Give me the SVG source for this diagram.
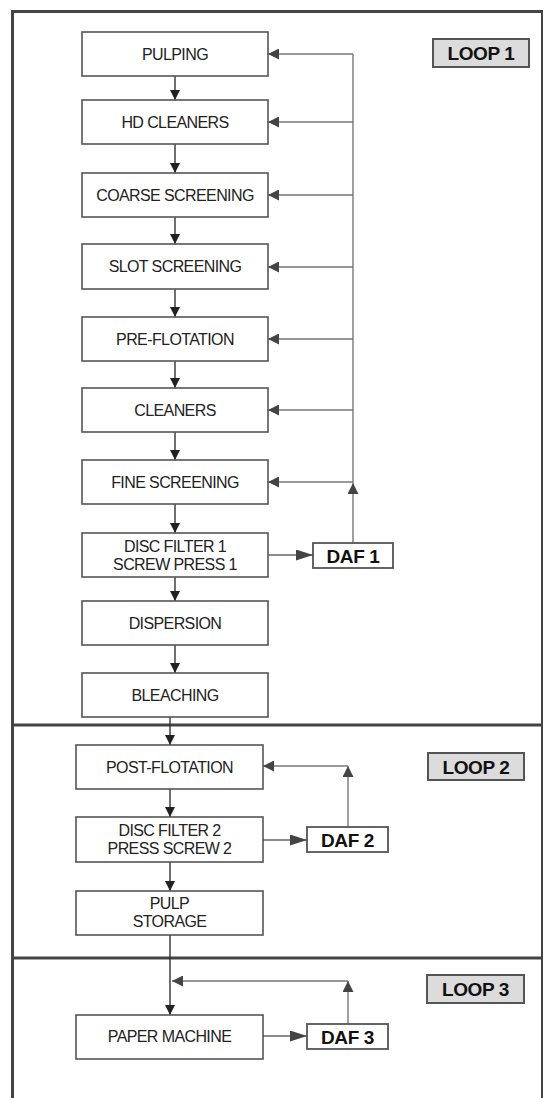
<svg xmlns="http://www.w3.org/2000/svg" width="544" height="1098" viewBox="0 0 544 1098">
<style>
.box{fill:#fff;stroke:#555;stroke-width:1.6}
.t{font-family:"Liberation Sans",Arial,sans-serif;font-size:16px;fill:#222;text-anchor:middle;letter-spacing:-0.6px}
.daf{fill:#fff;stroke:#555;stroke-width:1.8}
.dt{font-family:"Liberation Sans",Arial,sans-serif;font-size:19px;font-weight:bold;fill:#111;text-anchor:middle;letter-spacing:-0.4px}
.loop{fill:#dcdcdc;stroke:#555;stroke-width:2}
.down{stroke:#333;stroke-width:1.4;fill:none;marker-end:url(#ad)}
.fb{stroke:#777;stroke-width:1.4;fill:none}
.fba{stroke:#777;stroke-width:1.4;fill:none;marker-end:url(#af)}
.side{stroke:#666;stroke-width:1.4;fill:none;marker-end:url(#ab)}
.frame{stroke:#444;fill:none}
</style>
<defs>
<marker id="ad" markerUnits="userSpaceOnUse" markerWidth="10" markerHeight="10" refX="10" refY="5" orient="auto"><path d="M0,0 L10,5 L0,10 z" fill="#222"/></marker>
<marker id="af" markerUnits="userSpaceOnUse" markerWidth="11" markerHeight="11" refX="11" refY="5.5" orient="auto"><path d="M0,0 L11,5.5 L0,11 z" fill="#444"/></marker>
<marker id="ab" markerUnits="userSpaceOnUse" markerWidth="17" markerHeight="11" refX="17" refY="5.5" orient="auto"><path d="M0,0 L17,5.5 L0,11 z" fill="#444"/></marker>
</defs>
<g id="frame">
<line class="frame" x1="12.5" y1="11" x2="12.5" y2="1098" stroke-width="3"/>
<line class="frame" x1="11" y1="11.5" x2="543" y2="11.5" stroke-width="3"/>
<line class="frame" x1="542" y1="11" x2="542" y2="1098" stroke-width="2" stroke="#666"/>
<line class="frame" x1="11" y1="725" x2="543" y2="725" stroke-width="3"/>
<line class="frame" x1="11" y1="958" x2="543" y2="958" stroke-width="3"/>
</g>
<g id="connectors">
<line class="down" x1="175" y1="76" x2="175" y2="100"/>
<line class="down" x1="175" y1="144" x2="175" y2="173"/>
<line class="down" x1="175" y1="217" x2="175" y2="244"/>
<line class="down" x1="175" y1="289" x2="175" y2="317"/>
<line class="down" x1="175" y1="361" x2="175" y2="388"/>
<line class="down" x1="175" y1="432" x2="175" y2="460"/>
<line class="down" x1="175" y1="504" x2="175" y2="533"/>
<line class="down" x1="175" y1="577" x2="175" y2="601"/>
<line class="down" x1="175" y1="645" x2="175" y2="673"/>
<line class="down" x1="170" y1="717" x2="170" y2="745"/>
<line class="down" x1="170" y1="789" x2="170" y2="817"/>
<line class="down" x1="170" y1="862" x2="170" y2="891"/>
<line class="down" x1="170" y1="935" x2="170" y2="1015"/>
<line class="side" x1="268" y1="555" x2="313" y2="555"/>
<line class="side" x1="263" y1="840" x2="307" y2="840"/>
<line class="side" x1="263" y1="1036" x2="307" y2="1036"/>
<line class="fba" x1="353" y1="543" x2="353" y2="483"/>
<line class="fb" x1="353" y1="483" x2="353" y2="54"/>
<line class="fba" x1="353" y1="54" x2="268" y2="54"/>
<line class="fba" x1="353" y1="122" x2="268" y2="122"/>
<line class="fba" x1="353" y1="195" x2="268" y2="195"/>
<line class="fba" x1="353" y1="267" x2="268" y2="267"/>
<line class="fba" x1="353" y1="339" x2="268" y2="339"/>
<line class="fba" x1="353" y1="410" x2="268" y2="410"/>
<line class="fba" x1="353" y1="482" x2="268" y2="482"/>
<line class="fba" x1="348" y1="827" x2="348" y2="766"/>
<line class="fba" x1="348" y1="766" x2="263" y2="766"/>
<line class="fba" x1="348" y1="1024" x2="348" y2="981"/>
<line class="fba" x1="348" y1="981" x2="172" y2="981"/>
</g>
<g id="pulping"><rect class="box" x="82" y="32" width="186" height="44"/><text class="t" x="175" y="59.5">PULPING</text></g>
<g id="hd-cleaners"><rect class="box" x="82" y="100" width="186" height="44"/><text class="t" x="175" y="127.5">HD CLEANERS</text></g>
<g id="coarse-screening"><rect class="box" x="82" y="173" width="186" height="44"/><text class="t" x="175" y="200.5">COARSE SCREENING</text></g>
<g id="slot-screening"><rect class="box" x="82" y="244" width="186" height="45"/><text class="t" x="175" y="272">SLOT SCREENING</text></g>
<g id="pre-flotation"><rect class="box" x="82" y="317" width="186" height="44"/><text class="t" x="175" y="344.5">PRE-FLOTATION</text></g>
<g id="cleaners"><rect class="box" x="82" y="388" width="186" height="44"/><text class="t" x="175" y="415.5">CLEANERS</text></g>
<g id="fine-screening"><rect class="box" x="82" y="460" width="186" height="44"/><text class="t" x="175" y="487.5">FINE SCREENING</text></g>
<g id="disc-filter-1"><rect class="box" x="82" y="533" width="186" height="44"/><text class="t" x="175" y="551.5">DISC FILTER 1</text><text class="t" x="175" y="569.5">SCREW PRESS 1</text></g>
<g id="dispersion"><rect class="box" x="82" y="601" width="186" height="44"/><text class="t" x="175" y="628.5">DISPERSION</text></g>
<g id="bleaching"><rect class="box" x="82" y="673" width="186" height="44"/><text class="t" x="175" y="700.5">BLEACHING</text></g>
<g id="daf-1"><rect class="daf" x="313" y="543" width="80" height="25"/><text class="dt" x="353" y="562.5">DAF 1</text></g>
<g id="loop-1"><rect class="loop" x="433" y="39" width="96" height="28"/><text class="dt" x="481" y="60">LOOP 1</text></g>
<g id="post-flotation"><rect class="box" x="76" y="745" width="187" height="44"/><text class="t" x="169.5" y="772.5">POST-FLOTATION</text></g>
<g id="disc-filter-2"><rect class="box" x="76" y="817" width="187" height="45"/><text class="t" x="169.5" y="835.5">DISC FILTER 2</text><text class="t" x="169.5" y="854">PRESS SCREW 2</text></g>
<g id="pulp-storage"><rect class="box" x="76" y="891" width="187" height="44"/><text class="t" x="169.5" y="908.5">PULP</text><text class="t" x="169.5" y="926.5">STORAGE</text></g>
<g id="daf-2"><rect class="daf" x="307" y="827" width="81" height="25"/><text class="dt" x="347.5" y="846.5">DAF 2</text></g>
<g id="loop-2"><rect class="loop" x="428" y="753" width="96" height="27"/><text class="dt" x="476" y="773.5">LOOP 2</text></g>
<g id="paper-machine"><rect class="box" x="76" y="1015" width="187" height="44"/><text class="t" x="169.5" y="1042">PAPER MACHINE</text></g>
<g id="daf-3"><rect class="daf" x="307" y="1024" width="81" height="25"/><text class="dt" x="347.5" y="1043.5">DAF 3</text></g>
<g id="loop-3"><rect class="loop" x="427" y="975" width="97" height="28"/><text class="dt" x="475.5" y="996">LOOP 3</text></g>
</svg>
